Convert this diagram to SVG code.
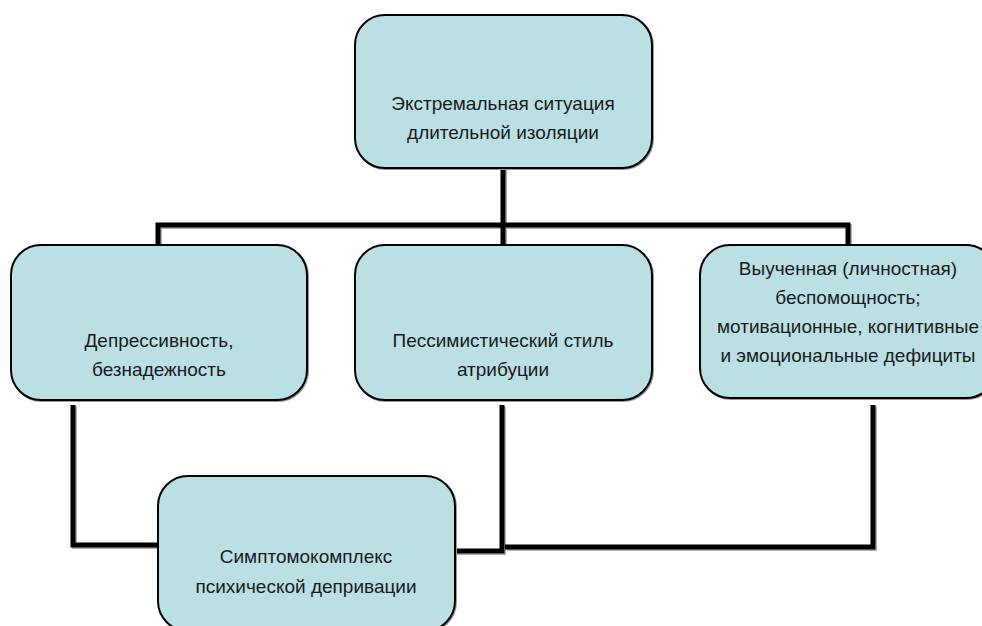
<svg xmlns="http://www.w3.org/2000/svg" width="982" height="626" viewBox="0 0 982 626">
<defs>
<style>
.box{fill:#BBE0E3;stroke:#000;stroke-width:2}
.shadow{fill:none;stroke:#9a9a9a;stroke-width:2}
.t{font-family:"Liberation Sans",Arial,sans-serif;font-size:19px;fill:#1a1a1a;text-anchor:middle}
.c{fill:none;stroke:#000;stroke-width:5;stroke-linecap:butt;stroke-linejoin:miter}
.cs{fill:none;stroke:#b0b0b0;stroke-width:5}
</style>
</defs>
<rect width="982" height="626" fill="#fff"/>
<g id="connectors">
<g transform="translate(1.5,1.5)">
<path class="cs" d="M503,168 V245 M158,245 V225 H848 V245"/>
<path class="cs" d="M73,405 V545 H158"/>
<path class="cs" d="M502,405 V551 H455"/>
<path class="cs" d="M873,405 V547 H505"/>
</g>
<path class="c" d="M503,168 V245 M158,245 V225 H848 V245"/>
<path class="c" d="M73,405 V545 H158"/>
<path class="c" d="M502,405 V551 H455"/>
<path class="c" d="M873,405 V547 H505"/>
</g>
<g id="n1">
<rect class="shadow" x="356" y="16" width="297" height="153" rx="30"/>
<rect class="box" x="355" y="15" width="297" height="153" rx="30"/>
<text class="t" x="503" y="110">Экстремальная ситуация</text>
<text class="t" x="503" y="139">длительной изоляции</text>
</g>
<g id="n2">
<rect class="shadow" x="12" y="246" width="296" height="155" rx="30"/>
<rect class="box" x="11" y="245" width="296" height="155" rx="30"/>
<text class="t" x="159" y="347">Депрессивность,</text>
<text class="t" x="159" y="376">безнадежность</text>
</g>
<g id="n3">
<rect class="shadow" x="356" y="246" width="297" height="155" rx="30"/>
<rect class="box" x="355" y="245" width="297" height="155" rx="30"/>
<text class="t" x="503" y="347">Пессимистический стиль</text>
<text class="t" x="503" y="376">атрибуции</text>
</g>
<g id="n4">
<rect class="shadow" x="701" y="246" width="296" height="153" rx="30"/>
<rect class="box" x="700" y="245" width="296" height="153" rx="30"/>
<text class="t" x="848" y="275">Выученная (личностная)</text>
<text class="t" x="848" y="304">беспомощность;</text>
<text class="t" x="848" y="333">мотивационные, когнитивные</text>
<text class="t" x="848" y="362">и эмоциональные дефициты</text>
</g>
<g id="n5">
<rect class="shadow" x="159" y="477" width="297" height="155" rx="30"/>
<rect class="box" x="158" y="476" width="297" height="155" rx="30"/>
<text class="t" x="306" y="563">Симптомокомплекс</text>
<text class="t" x="306" y="593">психической депривации</text>
</g>
</svg>
